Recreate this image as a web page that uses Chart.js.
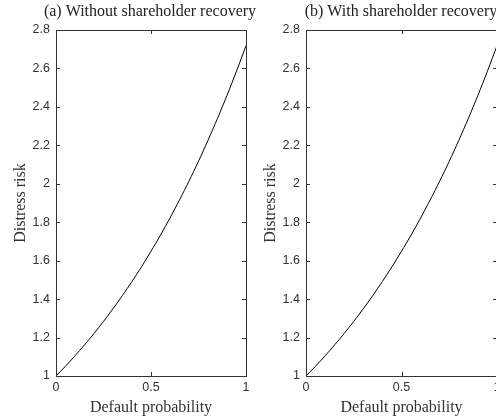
<!DOCTYPE html>
<html><head><meta charset="utf-8">
<script src="https://cdn.jsdelivr.net/npm/chart.js@4/dist/chart.umd.min.js"></script>
<style>
html,body{margin:0;padding:0;background:#fff;overflow:hidden;width:496px;height:417px;position:relative;}
.w{position:absolute;top:0;height:417px;}
</style></head><body>
<div class="w" style="left:0;width:300px"><canvas id="c1" width="300" height="417"></canvas></div>
<div class="w" style="left:250px;width:302px"><canvas id="c2" width="302" height="417"></canvas></div>
<script>
const defaultProbability = [0,0.05,0.1,0.15,0.2,0.25,0.3,0.35,0.4,0.45,0.5,0.55,0.6,0.65,0.7,0.75,0.8,0.85,0.9,0.95,1];
const riskWithout = [1,1.051,1.105,1.162,1.221,1.284,1.350,1.419,1.492,1.568,1.649,1.733,1.822,1.916,2.014,2.117,2.226,2.340,2.460,2.586,2.718];
const riskWith    = [1,1.051,1.105,1.162,1.221,1.284,1.350,1.419,1.492,1.568,1.649,1.733,1.822,1.916,2.014,2.117,2.226,2.340,2.460,2.586,2.718];
const xTicks = [0,0.5,1];
const yTicks = [1,1.2,1.4,1.6,1.8,2,2.2,2.4,2.6,2.8];
const titles = ['(a) Without shareholder recovery','(b) With shareholder recovery'];

const serif = "'Liberation Serif','DejaVu Serif',serif";
const sans = "'Liberation Sans',Arial,sans-serif";
const txt = '#333';

const boxPlugin = {
  id:'box',
  afterDraw(chart){
    const {ctx, chartArea:a, scales:{x,y}} = chart;
    ctx.save();
    ctx.strokeStyle = '#333'; ctx.lineWidth = 1;
    ctx.strokeRect(Math.round(a.left)+0.5, Math.round(a.top)+0.5, Math.round(a.right-a.left), Math.round(a.bottom-a.top));
    ctx.beginPath();
    const L = 4;
    yTicks.forEach(v=>{ const p = Math.round(y.getPixelForValue(v))+0.5;
      ctx.moveTo(a.left, p); ctx.lineTo(a.left+L, p);
      ctx.moveTo(a.right, p); ctx.lineTo(a.right-L, p); });
    xTicks.forEach(v=>{ const p = Math.round(x.getPixelForValue(v))+0.5;
      ctx.moveTo(p, a.bottom); ctx.lineTo(p, a.bottom-L);
      ctx.moveTo(p, a.top); ctx.lineTo(p, a.top+L); });
    ctx.stroke();
    ctx.restore();
  }
};

function make(id, data, title, rightSpace){
  const pts = defaultProbability.map((v,i)=>({x:v,y:data[i]}));
  new Chart(document.getElementById(id), {
    type:'line',
    data:{datasets:[{data:pts, borderColor:'#000', borderWidth:1, pointRadius:0, tension:0.3, fill:false}]},
    options:{
      responsive:false, animation:false, devicePixelRatio:1,
      layout:{padding:0},
      plugins:{legend:{display:false}, tooltip:{enabled:false},
        title:{display:true, text:title, color:'#222', font:{family:serif,size:16,weight:'normal'}, padding:{top:2,bottom:8.8}}},
      scales:{
        x:{type:'linear', min:0, max:1,
          afterBuildTicks(s){ s.ticks = xTicks.map(v=>({value:v})); },
          afterFit(s){ s.height = 41; },
          grid:{display:false, drawTicks:false}, border:{display:false},
          ticks:{color:txt, font:{family:sans,size:12.5}, padding:4, maxRotation:0, callback:v=>String(v)},
          title:{display:true, text:'Default probability', color:txt, font:{family:serif,size:16}, padding:{top:2,bottom:0}}},
        y:{type:'linear', min:1, max:2.8,
          afterBuildTicks(s){ s.ticks = yTicks.map(v=>({value:v})); },
          afterFit(s){ s.width = 56; },
          grid:{display:false, drawTicks:false}, border:{display:false},
          ticks:{color:txt, font:{family:sans,size:12.5}, padding:6, callback:v=>String(Math.round(v*10)/10)},
          title:{display:true, text:'Distress risk', color:txt, font:{family:serif,size:16}, padding:{top:11,bottom:0}}},
        yr:{type:'linear', position:'right', min:1, max:2.8,
          afterFit(s){ s.width = rightSpace; },
          grid:{display:false, drawTicks:false}, border:{display:false},
          ticks:{display:false}}
      }
    },
    plugins:[boxPlugin]
  });
}
make('c1', riskWithout, titles[0], 54);
make('c2', riskWith, titles[1], 55);
</script></body></html>
